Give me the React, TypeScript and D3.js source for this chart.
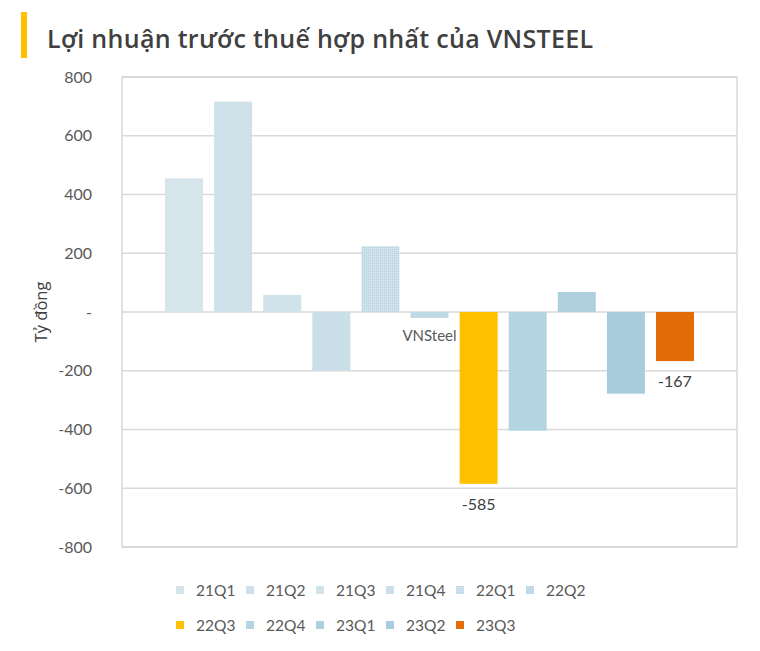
import { useMemo } from "react";
import * as d3 from "d3";

// Chart data
const category = "VNSteel";
const quarters = ["21Q1", "21Q2", "21Q3", "21Q4", "22Q1", "22Q2", "22Q3", "22Q4", "23Q1", "23Q2", "23Q3"];
const profits = [455, 716, 58, -200, 224, -20, -585, -404, 68, -278, -167];
const barColors = ["#D6E5EC", "#CFE1E9", "#D0E2EA", "#CADFE8", "url(#dots)", "#BFD9E5", "#FFC000", "#B3D4E1", "#AECFDE", "#A9CCDC", "#E36C09"];
const labelled = ["22Q3", "23Q3"];
const yTicks = [800, 600, 400, 200, 0, -200, -400, -600, -800];

const W = 760;
const H = 651;
const margin = { top: 77, right: 23, bottom: 104, left: 122 };

const axisFont = "Lato, 'Noto Sans', sans-serif";
const textGray = "#595959";

export default function App() {
  const innerW = W - margin.left - margin.right;
  const innerH = H - margin.top - margin.bottom;

  const y = useMemo(() => d3.scaleLinear().domain([-800, 800]).range([innerH, 0]), [innerH]);
  const x = useMemo(
    () => d3.scaleBand<string>().domain(quarters).range([0, innerW]).paddingInner(0.226).paddingOuter(0.876),
    [innerW]
  );

  // excel style: zero shown as a dash, plain hyphen for negatives
  const fmt = (v: number) => (v === 0 ? "-" : String(v));

  return (
    <svg width={W} height={H} style={{ display: "block", position: "absolute", left: 0, top: 0 }}>
      <defs>
        <pattern id="dots" width={2} height={2} patternUnits="userSpaceOnUse">
          <rect width={2} height={2} fill="#CFE2EB" />
          <rect width={1} height={1} fill="#B9D3E0" />
        </pattern>
      </defs>
      <rect width={W} height={H} fill="#fff" />

      {/* title */}
      <rect x={21} y={12} width={6} height={46} fill="#FFC000" />
      <text
        x={47}
        y={48}
        fontFamily="'Open Sans', sans-serif"
        fontWeight={600}
        fontSize={25}
        fill="#404040"
        textLength={546}
        lengthAdjust="spacing"
      >
        Lợi nhuận trước thuế hợp nhất của VNSTEEL
      </text>

      <g transform={`translate(${margin.left},${margin.top})`}>
        {/* grid */}
        {yTicks.map((v) => (
          <line key={`g-${v}`} x1={0} x2={innerW} y1={y(v)} y2={y(v)} stroke="#D9D9D9" strokeWidth={1.5} />
        ))}
        <rect x={0} y={0} width={innerW} height={innerH} fill="none" stroke="#D9D9D9" strokeWidth={1.5} />

        {/* y tick labels */}
        {yTicks.map((v) => (
          <text key={`t-${v}`} x={-30} y={y(v)} dy="0.35em" textAnchor="end" fontFamily={axisFont} fontSize={16} fill={textGray}>
            {fmt(v)}
          </text>
        ))}

        {/* category label */}
        <text x={innerW / 2} y={y(0) + 29} textAnchor="middle" fontFamily={axisFont} fontSize={15} fill={textGray}>
          {category}
        </text>

        {/* bars */}
        {quarters.map((q, i) => (
          <rect
            key={q}
            x={x(q)}
            width={x.bandwidth()}
            y={Math.min(y(profits[i]), y(0))}
            height={Math.abs(y(profits[i]) - y(0))}
            fill={barColors[i]}
          />
        ))}

        {/* data labels */}
        {quarters.map((q, i) =>
          labelled.includes(q) ? (
            <text
              key={`l-${q}`}
              x={(x(q) ?? 0) + x.bandwidth() / 2}
              y={y(profits[i]) + 26}
              textAnchor="middle"
              fontFamily={axisFont}
              fontSize={16}
              fill="#404040"
            >
              {fmt(profits[i])}
            </text>
          ) : null
        )}
      </g>

      {/* y axis title */}
      <text
        transform={`translate(47,${margin.top + y(0)}) rotate(-90)`}
        textAnchor="middle"
        fontFamily="'Open Sans', sans-serif"
        fontSize={16.5}
        fill="#404040"
      >
        Tỷ đồng
      </text>

      {/* legend */}
      {quarters.map((q, i) => {
        const row = i < 6 ? 0 : 1;
        const col = row === 0 ? i : i - 6;
        const lx = 176 + col * 70;
        const ly = 590 + row * 35;
        return (
          <g key={`lg-${q}`} transform={`translate(${lx},${ly})`}>
            <rect x={0} y={-4} width={8} height={8} fill={barColors[i]} />
            <text x={20} y={0} dy="0.36em" fontFamily={axisFont} fontSize={15.5} fill={textGray}>
              {q}
            </text>
          </g>
        );
      })}
    </svg>
  );
}
